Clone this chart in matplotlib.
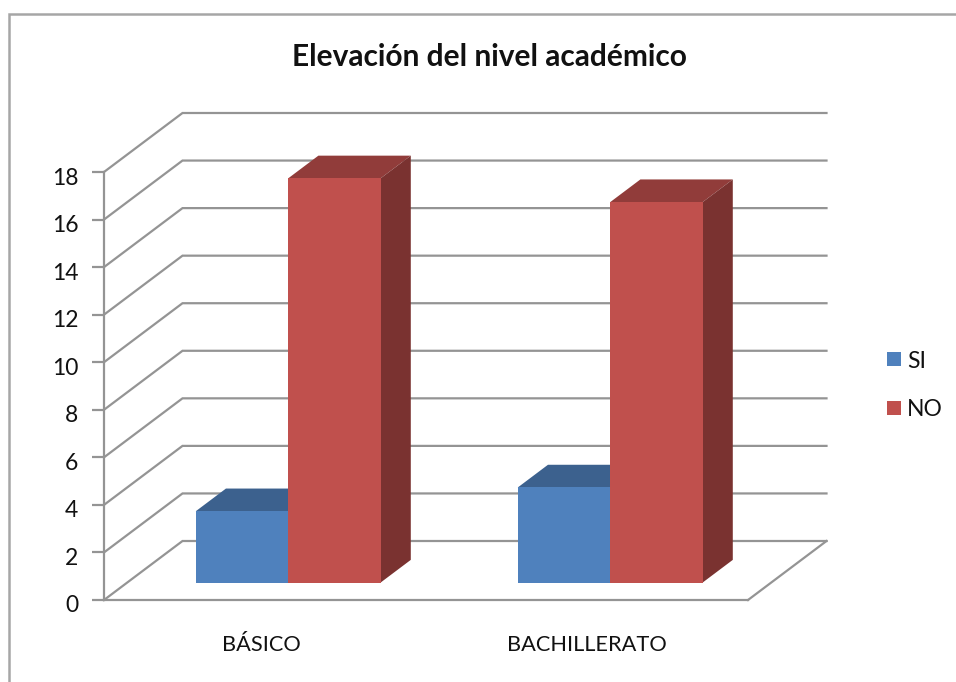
import numpy as np
import matplotlib
matplotlib.use('Agg')
import matplotlib.pyplot as plt
from matplotlib.patches import Polygon, Rectangle
from matplotlib.transforms import ScaledTranslation

plt.rcParams['font.family'] = ['Lato', 'DejaVu Sans']

# Data
categories = ['BÁSICO', 'BACHILLERATO']
si_values = [3, 4]
no_values = [17, 16]
y_ticks = list(range(0, 20, 2))

W, H = 956, 682
GRID = '#949494'

# 3D look: how far the back wall is shifted (in pixels)
DEPTH_X = 78.5
DEPTH_Y = 59.0
BAR_NEAR = 0.295   # bars sit between these depth fractions
BAR_FAR = 0.68
BAR_W = 0.287

fig = plt.figure(figsize=(W / 100, H / 100), dpi=100)

# axes = the front plane of the chart
left, right, top, bottom = 104, 748, 172, 600
ax = fig.add_axes([left / W, 1 - bottom / H, (right - left) / W, (bottom - top) / H])
ax.set_xlim(0, 2)
ax.set_ylim(0, 18)
ax.patch.set_alpha(0)

px_x = 2 / (right - left)
px_y = 18 / (bottom - top)


def shift(x, y, d):
    # push a point back by depth fraction d
    return (x + d * DEPTH_X * px_x, y + d * DEPTH_Y * px_y)


# gridlines: slanted floor/side part plus the back wall
for t in y_ticks:
    p0 = shift(0, t, 0)
    p1 = shift(0, t, 1)
    p2 = shift(2, t, 1)
    ax.plot([p0[0], p1[0], p2[0]], [p0[1], p1[1], p2[1]], color=GRID, lw=1.6,
            clip_on=False, zorder=1, solid_joinstyle='miter')

# floor right edge
p0 = shift(2, 0, 0)
p1 = shift(2, 0, 1)
ax.plot([p0[0], p1[0]], [p0[1], p1[1]], color=GRID, lw=1.6, clip_on=False, zorder=1)


def draw_bar(xc, val, front, top_c, side):
    x0, x1 = xc - BAR_W / 2, xc + BAR_W / 2
    a, b = BAR_NEAR, BAR_FAR
    ax.add_patch(Polygon([shift(x0, val, a), shift(x1, val, a), shift(x1, val, b), shift(x0, val, b)],
                         fc=top_c, ec='none', clip_on=False, zorder=3))
    ax.add_patch(Polygon([shift(x1, 0, a), shift(x1, 0, b), shift(x1, val, b), shift(x1, val, a)],
                         fc=side, ec='none', clip_on=False, zorder=3))
    ax.add_patch(Polygon([shift(x0, 0, a), shift(x1, 0, a), shift(x1, val, a), shift(x0, val, a)],
                         fc=front, ec='none', clip_on=False, zorder=4))


for i in range(len(categories)):
    xc = i + 0.5
    draw_bar(xc - BAR_W / 2, si_values[i], '#4f81bd', '#3c618e', '#2f4d71')
    draw_bar(xc + BAR_W / 2, no_values[i], '#c0504d', '#913c3a', '#7a3230')

# axes look
for s in ['top', 'right']:
    ax.spines[s].set_visible(False)
ax.spines['left'].set_color(GRID)
ax.spines['left'].set_linewidth(1.6)
ax.spines['bottom'].set_color(GRID)
ax.spines['bottom'].set_linewidth(1.6)
ax.set_yticks(y_ticks)
ax.set_xticks([0.5, 1.5])
ax.set_xticklabels(categories)
ax.tick_params(axis='y', labelsize=16.5, length=9, width=1.6, color=GRID,
               direction='out', pad=9.5, labelcolor='#111111')
ax.tick_params(axis='x', labelsize=15.7, length=0, pad=25, labelcolor='#111111')
ax.set_axisbelow(True)

# y labels sit a little under their ticks in the original
down = ScaledTranslation(0, -4 / 100, fig.dpi_scale_trans)
for lab in ax.get_yticklabels():
    lab.set_transform(lab.get_transform() + down)

# BÁSICO is a bit left of the category centre
left_nudge = ScaledTranslation(-3.5 / 100, 0, fig.dpi_scale_trans)
lab0 = ax.get_xticklabels()[0]
lab0.set_transform(lab0.get_transform() + left_nudge)

# title
fig.text(489 / W, 1 - 57 / H, 'Elevación del nivel académico', ha='center', va='center',
         fontsize=21.5, fontweight='bold', color='#111111')

# legend drawn by hand, Excel style squares
leg = [('SI', '#4f81bd', 359, 362), ('NO', '#c0504d', 407.5, 410)]
for name, col, ysq, ytxt in leg:
    fig.add_artist(Rectangle((887 / W, 1 - (ysq + 7) / H), 14 / W, 14 / H, fc=col, ec='none',
                             transform=fig.transFigure))
    fig.text(907 / W, 1 - ytxt / H, name, ha='left', va='center', fontsize=16.5, color='#111111')

# outer chart frame (runs off the picture on the right and bottom)
fig.add_artist(Rectangle((8.5 / W, -0.05), 1.1, 1 - 13.5 / H + 0.05, fc='none', ec='#a6a6a6', lw=1.8,
                         transform=fig.transFigure))

fig.savefig('out.png', dpi=100)
